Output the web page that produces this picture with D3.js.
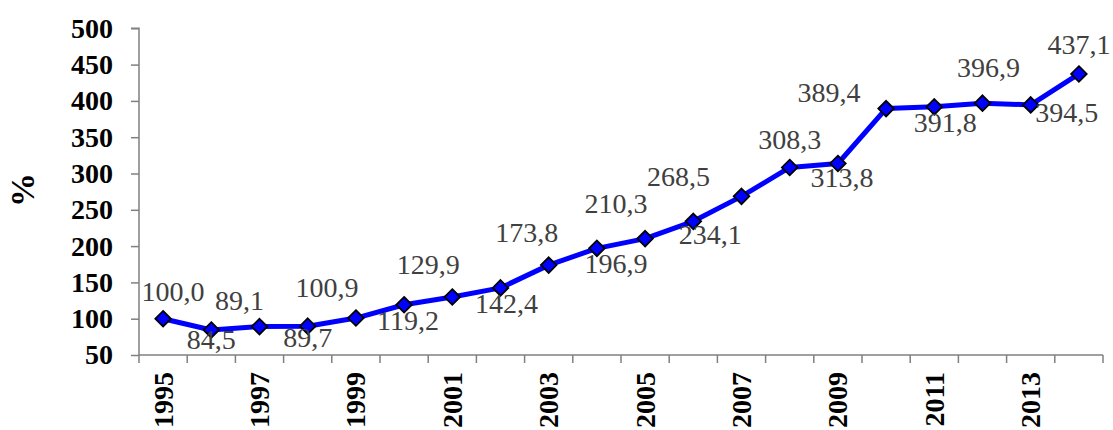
<!DOCTYPE html>
<html><head><meta charset="utf-8">
<script src="https://cdn.jsdelivr.net/npm/d3@7"></script>
<style>html,body{margin:0;padding:0;background:#fff;}svg{display:block;}</style>
</head><body>
<svg id="chart" width="1113" height="430"></svg>
<script>
const years = [1995,1996,1997,1998,1999,2000,2001,2002,2003,2004,2005,2006,2007,2008,2009,2010,2011,2012,2013,2014];
const values = [100.0,84.5,89.1,89.7,100.9,119.2,129.9,142.4,173.8,196.9,210.3,234.1,268.5,308.3,313.8,389.4,391.8,396.9,394.5,437.1];
const yTicks = [50,100,150,200,250,300,350,400,450,500];
const yearLabels = [1995,1997,1999,2001,2003,2005,2007,2009,2011,2013];
const yTitle = "%";
// label nudges (layout, px) relative to each point
const labelDx = [10,0,-20,0,-29,4,-24,6,-22,19,-29,17,-63,0,4,-57,11,6,36,0];
const labelDy = [-27,10,-26,11,-31,16,-32,16,-33,15,-35,13,-20,-28,14,-16,16,-36,8,-29];

const svg = d3.select("#chart");
const m = {left:139, right:1103, top:28.3, bottom:355};
const x = d3.scaleBand().domain(years).range([m.left, m.right]).padding(0);
const y = d3.scaleLinear().domain([50,500]).range([m.bottom, m.top]);
const axisColor = "#808080";
const serif = "'Liberation Serif','Times New Roman',serif";

// y axis
const yAxis = svg.append("g").attr("transform",`translate(${m.left},0)`)
  .call(d3.axisLeft(y).tickValues(yTicks).tickSize(8).tickPadding(18).tickFormat(d3.format("d")));
yAxis.selectAll("path,line").attr("stroke",axisColor).attr("stroke-width",1.5);
yAxis.select(".domain").attr("d",`M-8,${m.top}H0V${m.bottom}`);
yAxis.selectAll("text").attr("font-family",serif).attr("font-weight","bold").attr("font-size",28).attr("fill","#000");

// x axis
const xAxis = svg.append("g").attr("transform",`translate(0,${m.bottom})`);
xAxis.append("line").attr("x1",m.left).attr("x2",m.right).attr("y1",0).attr("y2",0).attr("stroke",axisColor).attr("stroke-width",1.5);
const bounds = years.map(d=>x(d)).concat([x(years[years.length-1])+x.bandwidth()]);
xAxis.selectAll("line.tk").data(bounds).join("line").attr("class","tk")
  .attr("x1",d=>d).attr("x2",d=>d).attr("y1",0).attr("y2",8).attr("stroke",axisColor).attr("stroke-width",1.5);
xAxis.selectAll("text").data(yearLabels).join("text")
  .attr("transform",d=>`translate(${x(d)+x.bandwidth()/2},17) rotate(-90)`)
  .attr("text-anchor","end").attr("dominant-baseline","central")
  .attr("font-family",serif).attr("font-weight","bold").attr("font-size",28).attr("fill","#000")
  .text(d=>d);

// y title
svg.append("text").attr("transform","translate(22,190) rotate(-90)")
  .attr("text-anchor","middle").attr("dominant-baseline","central")
  .attr("font-family",serif).attr("font-weight","bold").attr("font-size",34).text(yTitle);

const pts = years.map((yr,i)=>({yr, v:values[i], i}));
const cx = d=>x(d.yr)+x.bandwidth()/2;

svg.append("path").datum(pts)
  .attr("d", d3.line().x(cx).y(d=>y(d.v)))
  .attr("fill","none").attr("stroke","#0000ff").attr("stroke-width",5).attr("stroke-linejoin","round");

svg.selectAll("path.mk").data(pts).join("path").attr("class","mk")
  .attr("transform",d=>`translate(${cx(d)},${y(d.v)})`)
  .attr("d","M0,-7.8L7.8,0L0,7.8L-7.8,0Z")
  .attr("fill","#0000ff").attr("stroke","#000").attr("stroke-width",1.8);

svg.selectAll("text.lbl").data(pts).join("text").attr("class","lbl")
  .attr("x",d=>cx(d)+labelDx[d.i]).attr("y",d=>y(d.v)+labelDy[d.i])
  .attr("text-anchor","middle").attr("dominant-baseline","central")
  .attr("font-family",serif).attr("font-size",28).attr("fill","#404040")
  .text(d=>d3.format(".1f")(d.v).replace(".",","));
</script>
</body></html>
